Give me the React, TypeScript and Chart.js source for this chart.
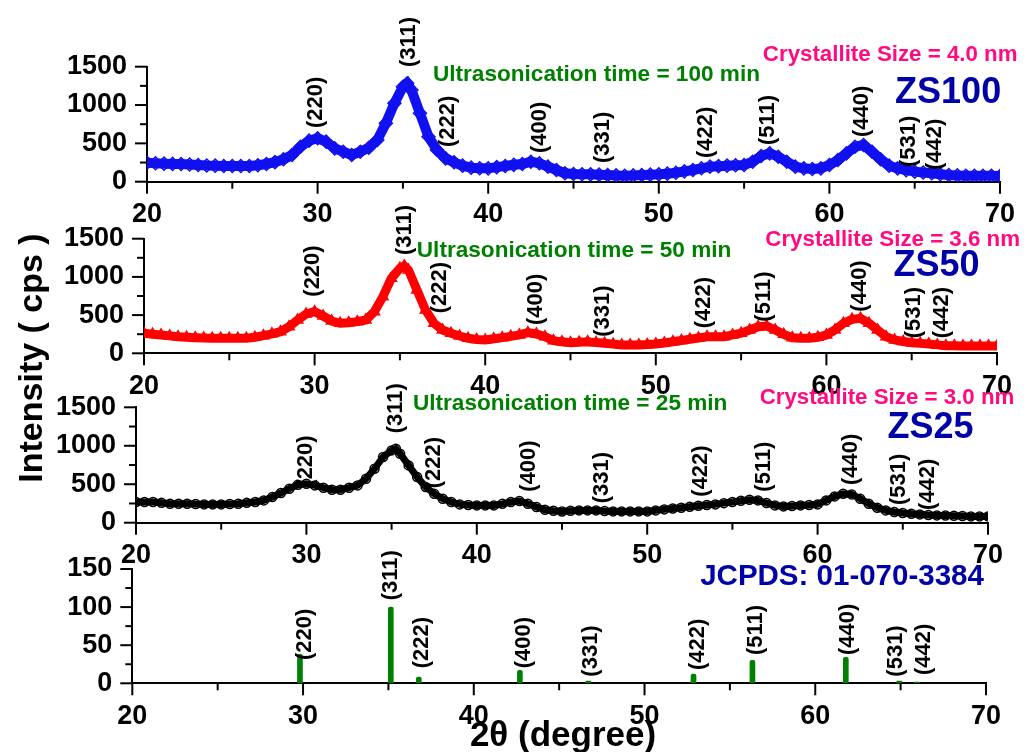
import React, { useEffect, useRef } from 'react';
import { Chart, registerables } from 'chart.js';

Chart.register(...registerables);

const FONT = '"Liberation Sans", Arial, Helvetica, sans-serif';

// 2-theta grid (degrees) shared by the three measured patterns
const angles = [
  20, 20.5, 21, 21.5, 22, 22.5, 23, 23.5, 24, 24.5,
  25, 25.5, 26, 26.5, 27, 27.5, 28, 28.5, 29, 29.5,
  30, 30.5, 31, 31.5, 32, 32.5, 33, 33.5, 34, 34.5,
  35, 35.25,
  35.5, 36, 36.5, 37, 37.5, 38, 38.5, 39, 39.5,
  40, 40.5, 41, 41.5, 42, 42.5, 43, 43.5, 44, 44.5,
  45, 45.5, 46, 46.5, 47, 47.5, 48, 48.5, 49, 49.5,
  50, 50.5, 51, 51.5, 52, 52.5, 53, 53.5, 54, 54.5,
  55, 55.5, 56, 56.5, 57, 57.5, 58, 58.5, 59, 59.5,
  60, 60.5, 61, 61.5, 62, 62.5, 63, 63.5, 64, 64.5,
  65, 65.5, 66, 66.5, 67, 67.5, 68, 68.5, 69, 69.5,
  70,
];

// Intensity (cps), ZS100 (blue)
const zs100 = [
  248, 240, 235, 232, 231, 225, 218, 212, 209, 205,
  205, 205, 205, 215, 231, 255, 292, 348, 456, 535,
  566, 522, 435, 391, 348, 391, 443, 544, 761, 1022,
  1239, 1283,
  1196, 892, 587, 413, 305, 253, 209, 183, 175,
  174, 190, 205, 220, 231, 261, 240, 196, 153, 110,
  100, 98, 96, 92, 87, 82, 78, 82, 87, 92,
  96, 105, 117, 135, 153, 175, 196, 203, 209, 214,
  218, 261, 335, 370, 326, 261, 196, 174, 166, 174,
  218, 283, 370, 456, 479, 391, 292, 209, 174, 150,
  131, 120, 110, 98, 87, 82, 78, 78, 78, 76,
  74,
];

// Intensity (cps), ZS50 (red)
const zs50 = [
  262, 250, 240, 228, 217, 210, 205, 200, 196, 196,
  196, 196, 196, 210, 231, 255, 283, 348, 436, 514,
  545, 488, 423, 393, 401, 414, 436, 545, 741, 982,
  1113, 1143,
  1090, 829, 567, 393, 305, 262, 226, 196, 180,
  174, 190, 205, 222, 240, 270, 253, 217, 165, 150,
  139, 145, 152, 140, 131, 120, 109, 109, 109, 115,
  122, 135, 152, 168, 183, 200, 217, 217, 217, 240,
  262, 305, 348, 357, 305, 248, 204, 198, 196, 210,
  240, 305, 393, 445, 458, 393, 305, 217, 174, 155,
  139, 130, 122, 110, 100, 98, 96, 96, 96, 96,
  96,
];

// Intensity (cps), ZS25 (black)
const zs25 = [
  269, 269, 269, 258, 247, 247, 247, 242, 238, 238,
  238, 242, 247, 258, 269, 290, 334, 386, 442, 494,
  507, 485, 455, 429, 429, 455, 485, 572, 702, 854,
  940, 962,
  897, 745, 594, 464, 377, 312, 269, 238, 230,
  225, 225, 225, 245, 269, 282, 247, 204, 169, 155,
  145, 155, 160, 160, 160, 152, 147, 147, 147, 147,
  147, 160, 173, 184, 195, 208, 221, 230, 238, 254,
  269, 285, 299, 290, 256, 225, 212, 218, 225, 230,
  238, 290, 342, 377, 368, 312, 247, 195, 160, 140,
  126, 117, 108, 100, 95, 93, 91, 86, 82, 82,
  82,
];

// JCPDS 01-070-3384 reference lines
const jcpdsAngles = [29.82, 35.14, 36.78, 42.7, 46.71, 52.87, 56.32, 61.79, 64.92, 65.95];
const jcpdsIntensity = [38, 100, 8, 17, 3, 12, 30, 34, 3, 1.5];

const hkl = ['(220)', '(311)', '(222)', '(400)', '(331)', '(422)', '(511)', '(440)', '(531)', '(442)'];

// hkl label anchors (2θ, intensity) per panel
const lab100X = [29.9, 35.36, 37.64, 43.04, 46.73, 52.77, 56.4, 61.9, 64.67, 66.19];
const lab100Y = [700, 1496, 452, 374, 244, 309, 478, 583, 192, 152];
const lab50X = [29.88, 35.3, 37.36, 42.99, 46.92, 52.85, 56.36, 61.99, 65.15, 66.8];
const lab50Y = [741, 1287, 524, 370, 217, 327, 414, 545, 196, 196];
const lab25X = [29.97, 35.25, 37.48, 43.05, 47.33, 53.14, 56.84, 61.94, 64.75, 66.5];
const lab25Y = [468, 1162, 447, 403, 252, 338, 403, 490, 230, 165];
const labRefX = [30.1, 35.14, 36.95, 42.95, 46.85, 53.1, 56.52, 61.89, 64.72, 66.38];
const labRefY = [30.6, 109, 19.7, 19.7, 8.7, 17.4, 37, 37, 8.7, 10.9];

const sampleNames = ['ZS100', 'ZS50', 'ZS25'];
const timeTexts = ['Ultrasonication time = 100 min', 'Ultrasonication time = 50 min', 'Ultrasonication time = 25 min'];
const sizeTexts = ['Crystallite Size = 4.0 nm', 'Crystallite Size = 3.6 nm', 'Crystallite Size = 3.0 nm'];
const refText = 'JCPDS: 01-070-3384';
const xTitle = '2θ (degree)';
const yTitle = 'Intensity ( cps )';

const W = 1030;
const H = 752;
const Y_BOX = 110;
const X_BOX = 50;

type TextItem = { text: string; x: number; y: number; color: string; size: number };

type PanelSpec = {
  area: { left: number; right: number; top: number; bottom: number };
  yMax: number;
  yStep: number;
  yMajor: number;
  labX: number[];
  labY: number[];
  texts: TextItem[];
  globalTitles?: boolean;
};

function annotPlugin(spec: PanelSpec) {
  return {
    id: 'annot',
    afterDraw(chart: any) {
      const { ctx, chartArea } = chart;
      const xs = chart.scales.x;
      const ys = chart.scales.y;
      ctx.save();
      ctx.strokeStyle = '#000';
      ctx.lineWidth = 2;
      xs.ticks.forEach((t: any) => {
        const px = xs.getPixelForValue(t.value);
        const len = t.value % 10 === 0 ? 12 : 7;
        ctx.beginPath();
        ctx.moveTo(px, chartArea.bottom);
        ctx.lineTo(px, chartArea.bottom + len);
        ctx.stroke();
      });
      ys.ticks.forEach((t: any) => {
        const py = ys.getPixelForValue(t.value);
        const len = t.value % spec.yMajor === 0 ? 12 : 7;
        ctx.beginPath();
        ctx.moveTo(chartArea.left, py);
        ctx.lineTo(chartArea.left - len, py);
        ctx.stroke();
      });

      ctx.fillStyle = '#000';
      ctx.font = `bold 22px ${FONT}`;
      ctx.textAlign = 'left';
      ctx.textBaseline = 'middle';
      hkl.forEach((lab, i) => {
        ctx.save();
        ctx.translate(xs.getPixelForValue(spec.labX[i]), ys.getPixelForValue(spec.labY[i]));
        ctx.rotate(-Math.PI / 2);
        ctx.fillText(lab, 0, 0);
        ctx.restore();
      });

      spec.texts.forEach((tx) => {
        ctx.font = `bold ${tx.size}px ${FONT}`;
        ctx.fillStyle = tx.color;
        ctx.textAlign = 'left';
        ctx.textBaseline = 'middle';
        ctx.fillText(tx.text, xs.getPixelForValue(tx.x), ys.getPixelForValue(tx.y));
      });

      if (spec.globalTitles) {
        ctx.fillStyle = '#000';
        ctx.font = `bold 35px ${FONT}`;
        ctx.textAlign = 'center';
        ctx.textBaseline = 'alphabetic';
        ctx.fillText(xTitle, 563, 746);
        ctx.font = `bold 34px ${FONT}`;
        ctx.save();
        ctx.translate(42, 358);
        ctx.rotate(-Math.PI / 2);
        ctx.fillText(yTitle, 0, 0);
        ctx.restore();
      }
      ctx.restore();
    },
  };
}

function scalesFor(spec: PanelSpec) {
  const tickFont = { family: FONT, size: 27, weight: 'bold' as const };
  return {
    x: {
      type: 'linear' as const,
      min: 20,
      max: 70,
      offset: false,
      afterFit: (s: any) => { s.height = X_BOX; },
      grid: { drawOnChartArea: false, drawTicks: true, tickLength: 12, color: 'rgba(0,0,0,0)' },
      border: { display: true, color: '#000', width: 2 },
      ticks: {
        stepSize: 5,
        autoSkip: false,
        maxRotation: 0,
        padding: 5,
        color: '#000',
        font: tickFont,
        callback: (v: any) => (Number(v) % 10 === 0 ? String(v) : ''),
      },
    },
    y: {
      min: 0,
      max: spec.yMax,
      afterFit: (s: any) => { s.width = Y_BOX; },
      grid: { drawOnChartArea: false, drawTicks: true, tickLength: 12, color: 'rgba(0,0,0,0)' },
      border: { display: true, color: '#000', width: 2 },
      ticks: {
        stepSize: spec.yStep,
        autoSkip: false,
        padding: 8,
        color: '#000',
        font: tickFont,
        callback: (v: any) => (Number(v) % spec.yMajor === 0 ? String(v) : ''),
      },
    },
  };
}

function layoutFor(spec: PanelSpec) {
  const a = spec.area;
  return {
    padding: {
      left: a.left - Y_BOX,
      right: W - a.right,
      top: a.top,
      bottom: H - a.bottom - X_BOX,
    },
  };
}

function lineConfig(spec: PanelSpec, values: number[], color: string, style: string, lineW: number, radius: number) {
  return {
    type: 'line' as const,
    data: {
      datasets: [
        {
          data: angles.map((a, i) => ({ x: a, y: values[i] })),
          borderColor: color,
          borderWidth: lineW,
          tension: 0,
          pointStyle: style,
          pointRadius: radius,
          pointBorderWidth: 1.5,
          pointBorderColor: color,
          pointBackgroundColor: 'rgba(255,255,255,0)',
        },
      ],
    },
    options: {
      responsive: false,
      animation: false as const,
      events: [],
      layout: layoutFor(spec),
      plugins: { legend: { display: false }, tooltip: { enabled: false } },
      scales: scalesFor(spec),
    },
    plugins: [annotPlugin(spec)],
  };
}

function barConfig(spec: PanelSpec) {
  return {
    type: 'bar' as const,
    data: {
      datasets: [
        {
          data: jcpdsAngles.map((a, i) => ({ x: a, y: jcpdsIntensity[i] })),
          backgroundColor: '#008000',
          borderWidth: 0,
          barThickness: 5,
          borderRadius: 2,
        },
      ],
    },
    options: {
      responsive: false,
      animation: false as const,
      events: [],
      layout: layoutFor(spec),
      plugins: { legend: { display: false }, tooltip: { enabled: false } },
      scales: scalesFor(spec),
    },
    plugins: [annotPlugin(spec)],
  };
}

const GREEN = '#008000';
const PINK = '#FF0A80';
const NAVY = '#0000A8';

const spec100: PanelSpec = {
  area: { left: 147, right: 1000, top: 66.7, bottom: 181.7 },
  yMax: 1500, yStep: 250, yMajor: 500,
  labX: lab100X, labY: lab100Y,
  texts: [
    { text: timeTexts[0], x: 36.76, y: 1398, color: GREEN, size: 22.6 },
    { text: sizeTexts[0], x: 56.1, y: 1652, color: PINK, size: 22.3 },
    { text: sampleNames[0], x: 63.85, y: 1157, color: NAVY, size: 36 },
  ],
};
const spec50: PanelSpec = {
  area: { left: 144, right: 997, top: 238.7, bottom: 353.3 },
  yMax: 1500, yStep: 250, yMajor: 500,
  labX: lab50X, labY: lab50Y,
  texts: [
    { text: timeTexts[1], x: 35.99, y: 1339, color: GREEN, size: 22.6 },
    { text: sizeTexts[1], x: 56.42, y: 1483, color: PINK, size: 22.3 },
    { text: sampleNames[1], x: 63.93, y: 1136, color: NAVY, size: 36 },
  ],
};
const spec25: PanelSpec = {
  area: { left: 136, right: 988, top: 407.3, bottom: 522.7 },
  yMax: 1500, yStep: 250, yMajor: 500,
  labX: lab25X, labY: lab25Y,
  texts: [
    { text: timeTexts[2], x: 36.25, y: 1543, color: GREEN, size: 22.6 },
    { text: sizeTexts[2], x: 56.6, y: 1621, color: PINK, size: 22.3 },
    { text: sampleNames[2], x: 64.1, y: 1225, color: NAVY, size: 36 },
  ],
};
const specRef: PanelSpec = {
  area: { left: 132.3, right: 986, top: 569, bottom: 683.3 },
  yMax: 150, yStep: 25, yMajor: 50,
  labX: labRefX, labY: labRefY,
  texts: [{ text: refText, x: 53.26, y: 139.5, color: NAVY, size: 29.5 }],
  globalTitles: true,
};

function Panel({ make }: { make: () => any }) {
  const ref = useRef<HTMLCanvasElement | null>(null);
  useEffect(() => {
    if (!ref.current) return;
    const chart = new Chart(ref.current, make());
    return () => chart.destroy();
  }, []);
  return (
    <canvas
      ref={ref}
      width={W}
      height={H}
      style={{ position: 'absolute', left: 0, top: 0, width: W, height: H }}
    />
  );
}

export default function App() {
  return (
    <div style={{ position: 'absolute', left: 0, top: 0, width: W, height: H, background: '#fff', overflow: 'hidden' }}>
      <Panel make={() => lineConfig(spec100, zs100, '#1010F0', 'rectRot', 10, 6.5)} />
      <Panel make={() => lineConfig(spec50, zs50, '#FF0000', 'triangle', 9, 6)} />
      <Panel make={() => lineConfig(spec25, zs25, '#000000', 'circle', 7, 4.5)} />
      <Panel make={() => barConfig(specRef)} />
    </div>
  );
}
